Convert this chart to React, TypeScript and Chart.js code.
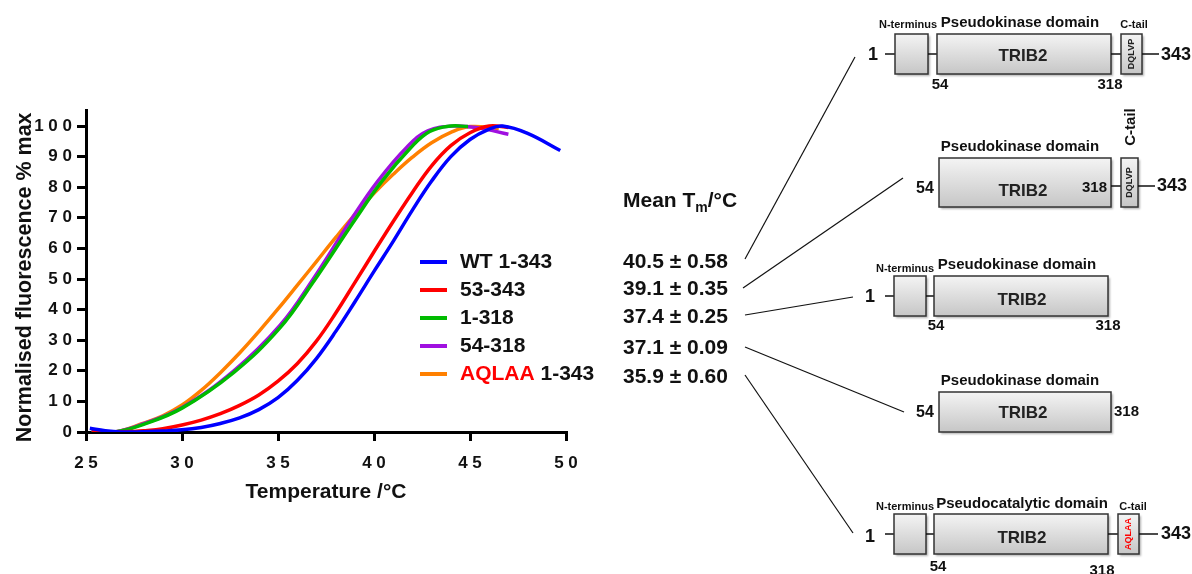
import React, { useEffect, useRef } from 'react';
import { Chart, registerables } from 'chart.js';

Chart.register(...registerables);

const FONT = "'Liberation Sans', Arial, Helvetica, sans-serif";

// ---- data ----
const xTickValues = [25, 30, 35, 40, 45, 50];
const yTickValues = [0, 10, 20, 30, 40, 50, 60, 70, 80, 90, 100];

const wtTemps = [25.2, 26, 26.8, 28, 29, 30, 31, 32, 33, 34, 35, 36, 37, 38, 39, 40, 41, 42, 43, 44, 45, 46, 46.7, 48, 49.7];
const wtValues = [1.2, 0.4, 0, 0.1, 0.3, 0.7, 1.5, 2.8, 4.6, 7.3, 11.2, 16.8, 24, 32.8, 42.5, 52.5, 62.3, 72.5, 82, 90, 95.6, 99, 100, 97.6, 92];

const d53Temps = [25.3, 26.5, 27.5, 28, 29, 30, 31, 32, 33, 34, 35, 36, 37, 38, 39, 40, 41, 42, 43, 44, 45, 46, 47];
const d53Values = [0.3, 0, 0.2, 0.4, 1.1, 2.3, 3.9, 6.0, 8.7, 12.1, 16.6, 22.3, 29.7, 38.8, 48.8, 58.9, 68.8, 78.3, 87, 93.6, 97.8, 100, 99.5];

const d1318Temps = [25.3, 26.5, 28, 30, 32.7, 35.1, 36.8, 39.0, 40.4, 41.9, 42.9, 44, 44.9];
const d1318Values = [0.3, 0, 2.5, 7.8, 19.5, 34, 48.7, 69.3, 81.8, 92.8, 98.2, 100, 99.8];

const d54318Temps = [25.3, 26.5, 28, 30, 32.7, 35.1, 36.8, 38.8, 40.2, 41.7, 42.8, 44.2, 45.5, 47];
const d54318Values = [0.3, 0, 2.7, 8.0, 20, 34.8, 49.7, 69.3, 82, 93, 98.4, 100, 99.3, 97.3];

const aqlaaTemps = [25.3, 26.5, 28, 29, 30, 31, 32, 33, 34, 35, 36, 37, 38, 39, 40, 41, 42, 43, 44, 45, 46.5];
const aqlaaValues = [0.2, 0, 2.9, 5.3, 8.8, 13.6, 19.4, 25.8, 32.8, 40.2, 47.9, 55.7, 63.5, 71, 78, 84.2, 89.8, 94.5, 97.9, 99.8, 99.2];

const seriesLabels = ['WT 1-343', '53-343', '1-318', '54-318', 'AQLAA 1-343'];
const seriesColors = ['#0000ff', '#ff0000', '#00bb00', '#a010e0', '#ff8000'];
const mutationTag = 'AQLAA';
const tmLabels = ['40.5 ± 0.58', '39.1 ± 0.35', '37.4 ± 0.25', '37.1 ± 0.09', '35.9 ± 0.60'];

const seriesTemps = [wtTemps, d53Temps, d1318Temps, d54318Temps, aqlaaTemps];
const seriesValues = [wtValues, d53Values, d1318Values, d54318Values, aqlaaValues];

function spaced(v: number): string {
  return String(v).split('').join(' ');
}

function text(ctx: CanvasRenderingContext2D, s: string, x: number, y: number, size: number, align: CanvasTextAlign = 'center', color = '#111', rot = 0) {
  ctx.save();
  ctx.font = `bold ${size}px ${FONT}`;
  ctx.fillStyle = color;
  ctx.textAlign = align;
  ctx.textBaseline = 'middle';
  ctx.translate(x, y);
  if (rot) ctx.rotate(rot);
  ctx.fillText(s, 0, 0);
  ctx.restore();
}

function box(ctx: CanvasRenderingContext2D, x: number, y: number, w: number, h: number) {
  ctx.save();
  const g = ctx.createLinearGradient(0, y, 0, y + h);
  g.addColorStop(0, '#f4f4f4');
  g.addColorStop(1, '#c6c6c6');
  ctx.shadowColor = 'rgba(0,0,0,0.3)';
  ctx.shadowOffsetX = 1.5;
  ctx.shadowOffsetY = 1.5;
  ctx.shadowBlur = 2;
  ctx.fillStyle = g;
  ctx.fillRect(x, y, w, h);
  ctx.shadowColor = 'transparent';
  ctx.strokeStyle = '#333';
  ctx.lineWidth = 1.5;
  ctx.strokeRect(x, y, w, h);
  ctx.restore();
}

function seg(ctx: CanvasRenderingContext2D, x1: number, y1: number, x2: number, y2: number, w = 1.5, color = '#111') {
  ctx.save();
  ctx.strokeStyle = color;
  ctx.lineWidth = w;
  ctx.beginPath();
  ctx.moveTo(x1, y1);
  ctx.lineTo(x2, y2);
  ctx.stroke();
  ctx.restore();
}

const overlayPlugin = {
  id: 'overlay',
  afterDraw(chart: any) {
    const ctx: CanvasRenderingContext2D = chart.ctx;
    // legend
    const legendY = [262, 290, 318, 346, 374];
    seriesLabels.forEach((lab, i) => {
      const y = legendY[i];
      seg(ctx, 420, y, 447, y, 4, seriesColors[i]);
      if (lab.startsWith(mutationTag)) {
        ctx.save();
        ctx.font = `bold 21px ${FONT}`;
        const w = ctx.measureText(mutationTag).width;
        ctx.restore();
        text(ctx, mutationTag, 460, y, 21, 'left', '#ff0000');
        text(ctx, lab.slice(mutationTag.length), 460 + w, y, 21, 'left', '#111');
      } else {
        text(ctx, lab, 460, y, 21, 'left', '#111');
      }
    });

    // Mean Tm heading
    ctx.save();
    ctx.font = `bold 21px ${FONT}`;
    ctx.fillStyle = '#111';
    ctx.textBaseline = 'alphabetic';
    ctx.textAlign = 'left';
    ctx.fillText('Mean T', 623, 207);
    let wx = 623 + ctx.measureText('Mean T').width;
    ctx.font = `bold 14px ${FONT}`;
    ctx.fillText('m', wx, 212);
    wx += ctx.measureText('m').width;
    ctx.font = `bold 21px ${FONT}`;
    ctx.fillText('/°C', wx, 207);
    ctx.restore();

    const tmY = [262, 289, 317, 348, 377];
    tmLabels.forEach((t, i) => text(ctx, t, 623, tmY[i], 21, 'left', '#111'));

    // connectors
    seg(ctx, 745, 259, 855, 57, 1.2);
    seg(ctx, 743, 288, 903, 178, 1.2);
    seg(ctx, 745, 315, 853, 297, 1.2);
    seg(ctx, 745, 347, 904, 412, 1.2);
    seg(ctx, 745, 375, 853, 533, 1.2);

    // diagram 1
    text(ctx, '1', 873, 55, 18);
    seg(ctx, 885, 54, 895, 54);
    box(ctx, 895, 34, 33, 40);
    seg(ctx, 928, 54, 937, 54);
    box(ctx, 937, 34, 174, 40);
    seg(ctx, 1111, 54, 1121, 54);
    box(ctx, 1121, 34, 21, 40);
    text(ctx, 'DQLVP', 1131.5, 54, 9, 'center', '#222', -Math.PI / 2);
    seg(ctx, 1142, 54, 1159, 54);
    text(ctx, '343', 1161, 55, 18, 'left');
    text(ctx, 'N-terminus', 908, 25, 11);
    text(ctx, 'Pseudokinase domain', 1020, 23, 15);
    text(ctx, 'C-tail', 1134, 25, 11);
    text(ctx, 'TRIB2', 1023, 56, 17, 'center', '#222');
    text(ctx, '54', 940, 85, 15);
    text(ctx, '318', 1110, 85, 15);

    // diagram 2
    text(ctx, '54', 925, 189, 16);
    box(ctx, 939, 158, 172, 49);
    text(ctx, 'Pseudokinase domain', 1020, 147, 15);
    text(ctx, 'TRIB2', 1023, 191, 17, 'center', '#222');
    text(ctx, '318', 1107, 188, 15, 'right');
    seg(ctx, 1111, 186, 1121, 186);
    box(ctx, 1121, 158, 17, 49);
    text(ctx, 'DQLVP', 1129.5, 182.5, 9, 'center', '#222', -Math.PI / 2);
    seg(ctx, 1138, 186, 1155, 186);
    text(ctx, '343', 1157, 186, 18, 'left');
    text(ctx, 'C-tail', 1131, 127, 15, 'center', '#111', -Math.PI / 2);

    // diagram 3
    text(ctx, '1', 870, 297, 18);
    seg(ctx, 885, 296, 894, 296);
    box(ctx, 894, 276, 32, 40);
    seg(ctx, 926, 296, 934, 296);
    box(ctx, 934, 276, 174, 40);
    text(ctx, 'N-terminus', 905, 269, 11);
    text(ctx, 'Pseudokinase domain', 1017, 265, 15);
    text(ctx, 'TRIB2', 1022, 300, 17, 'center', '#222');
    text(ctx, '54', 936, 326, 15);
    text(ctx, '318', 1108, 326, 15);

    // diagram 4
    text(ctx, '54', 925, 413, 16);
    box(ctx, 939, 392, 172, 40);
    text(ctx, 'Pseudokinase domain', 1020, 381, 15);
    text(ctx, 'TRIB2', 1023, 413, 17, 'center', '#222');
    text(ctx, '318', 1114, 412, 15, 'left');

    // diagram 5
    text(ctx, '1', 870, 537, 18);
    seg(ctx, 885, 534, 894, 534);
    box(ctx, 894, 514, 32, 40);
    seg(ctx, 926, 534, 934, 534);
    box(ctx, 934, 514, 174, 40);
    seg(ctx, 1108, 534, 1118, 534);
    box(ctx, 1118, 514, 21, 40);
    text(ctx, 'AQLAA', 1128.5, 534, 9, 'center', '#ff0000', -Math.PI / 2);
    seg(ctx, 1139, 534, 1158, 534);
    text(ctx, '343', 1161, 534, 18, 'left');
    text(ctx, 'N-terminus', 905, 507, 11);
    text(ctx, 'Pseudocatalytic domain', 1022, 504, 15);
    text(ctx, 'C-tail', 1133, 507, 11);
    text(ctx, 'TRIB2', 1022, 538, 17, 'center', '#222');
    text(ctx, '54', 938, 567, 15);
    text(ctx, '318', 1102, 571, 15);
  },
};

export default function App() {
  const ref = useRef<HTMLCanvasElement | null>(null);

  useEffect(() => {
    if (!ref.current) return;
    const datasets = seriesLabels.map((lab, i) => ({
      label: lab,
      data: seriesTemps[i].map((t, j) => ({ x: t, y: seriesValues[i][j] })),
      borderColor: seriesColors[i],
      backgroundColor: seriesColors[i],
      borderWidth: 3.5,
      pointRadius: 0,
      fill: false,
      tension: 0.4,
    }));

    const chart = new Chart(ref.current, {
      type: 'line',
      data: { datasets },
      plugins: [overlayPlugin],
      options: {
        responsive: false,
        animation: false,
        events: [],
        layout: { padding: { left: 0, top: 110.7, right: 626, bottom: 0 } },
        plugins: { legend: { display: false }, tooltip: { enabled: false } },
        scales: {
          x: {
            type: 'linear',
            min: 25,
            max: 50,
            afterFit: (s: any) => { s.height = 142; },
            afterBuildTicks: (s: any) => { s.ticks = xTickValues.map((v) => ({ value: v })); },
            ticks: {
              callback: (v: any) => spaced(v),
              font: { family: FONT, size: 17, weight: 'bold' },
              color: '#111',
              padding: 12,
              maxRotation: 0,
              autoSkip: false,
            },
            grid: { display: true, drawOnChartArea: false, drawTicks: true, tickLength: 9, tickWidth: 3, tickColor: '#000', color: '#000', lineWidth: 3 },
            border: { display: true, color: '#000', width: 3 },
            title: {
              display: true,
              text: 'Temperature /°C',
              font: { family: FONT, size: 21, weight: 'bold' },
              color: '#111',
              padding: { top: 0, bottom: 69.4 },
            },
          },
          y: {
            type: 'linear',
            min: 0,
            max: 105,
            afterFit: (s: any) => { s.width = 86; },
            afterBuildTicks: (s: any) => { s.ticks = yTickValues.map((v) => ({ value: v })); },
            ticks: {
              callback: (v: any) => spaced(v),
              font: { family: FONT, size: 17, weight: 'bold' },
              color: '#111',
              padding: 5,
              autoSkip: false,
            },
            grid: { display: true, drawOnChartArea: false, drawTicks: true, tickLength: 9, tickWidth: 3, tickColor: '#000', color: '#000', lineWidth: 3 },
            border: { display: true, color: '#000', width: 3 },
            title: {
              display: true,
              text: 'Normalised fluorescence % max  ',
              font: { family: FONT, size: 21.5, weight: 'bold' },
              color: '#111',
              padding: { top: 12, bottom: 0 },
            },
          },
        },
      },
    });
    return () => chart.destroy();
  }, []);

  return (
    <div style={{ position: 'absolute', left: 0, top: 0, width: 1192, height: 574, background: '#fff' }}>
      <canvas ref={ref} width={1192} height={574} />
    </div>
  );
}
